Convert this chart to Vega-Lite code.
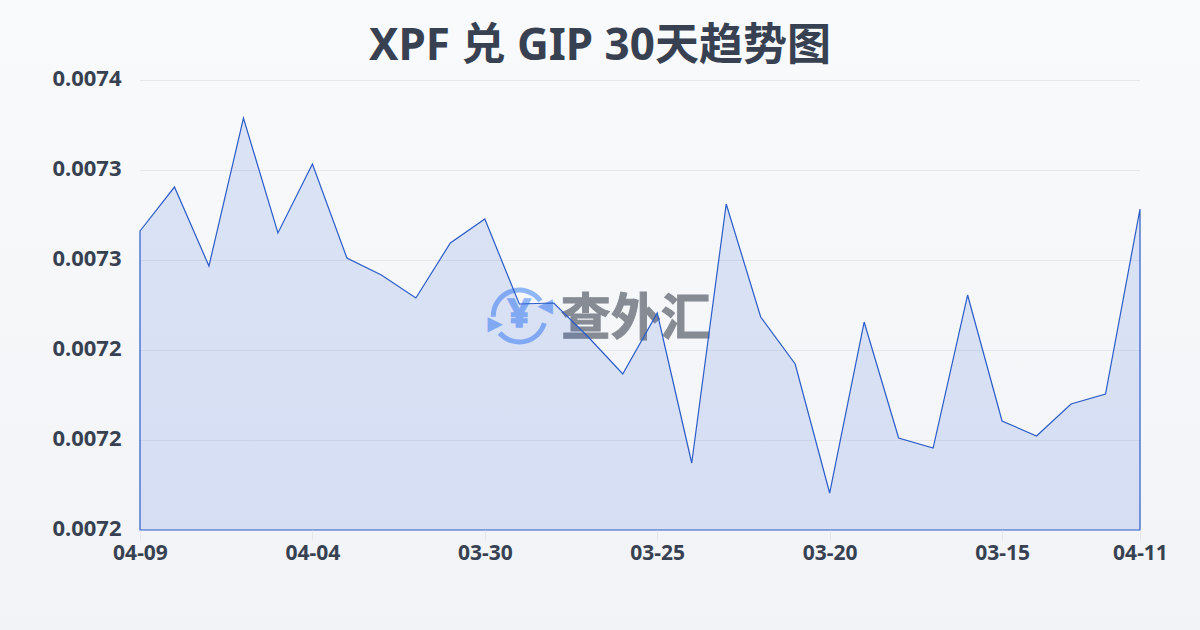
{
"$schema":"https://vega.github.io/schema/vega-lite/v6.json",
"autosize":"none","width":1000,"height":450,
"padding":{"left":140,"top":80,"right":60,"bottom":100},
"background":"#f5f7f9",
"view":{"stroke":null},
"title":{"text":"XPF 兑 GIP 30天趋势图","font":"Noto Sans, Noto Sans CJK SC","fontSize":44,"fontWeight":"bold","color":"#374151","anchor":"middle","dx":-40,"offset":-74},
"data":{"values":[
{"d":"04-09","v":0.00729289},{"d":"04-08","v":0.00731244},{"d":"04-07","v":0.00727733},{"d":"04-06","v":0.00734311},{"d":"04-05","v":0.007292},
{"d":"04-04","v":0.00732267},{"d":"04-03","v":0.00728089},{"d":"04-02","v":0.00727333},{"d":"04-01","v":0.00726311},{"d":"03-31","v":0.00728756},
{"d":"03-30","v":0.00729822},{"d":"03-29","v":0.00726044},{"d":"03-28","v":0.00726089},{"d":"03-27","v":0.00724578},{"d":"03-26","v":0.00722933},
{"d":"03-25","v":0.00725644},{"d":"03-24","v":0.00718978},{"d":"03-23","v":0.00730489},{"d":"03-22","v":0.00725467},{"d":"03-21","v":0.00723378},
{"d":"03-20","v":0.00717644},{"d":"03-19","v":0.00725244},{"d":"03-18","v":0.00720089},{"d":"03-17","v":0.00719644},{"d":"03-16","v":0.00726444},
{"d":"03-15","v":0.00720844},{"d":"03-14","v":0.00720178},{"d":"03-13","v":0.007216},{"d":"03-12","v":0.00722044},{"d":"04-11","v":0.00730267}
]},
"encoding":{
"x":{"field":"d","type":"ordinal","title":null,"scale":{"type":"point","padding":0,"range":[-0.0001,1000],"domain":["04-09","04-08","04-07","04-06","04-05","04-04","04-03","04-02","04-01","03-31","03-30","03-29","03-28","03-27","03-26","03-25","03-24","03-23","03-22","03-21","03-20","03-19","03-18","03-17","03-16","03-15","03-14","03-13","03-12","04-11"]},
"axis":{"values":["04-09","04-04","03-30","03-25","03-20","03-15","04-11"],"labelAngle":0,"labelOverlap":false,"labelBound":false,"labelFlush":false,"domain":false,"ticks":true,"tickSize":10,"tickColor":"#e5e7eb","grid":false,"zindex":1,"labelFont":"Noto Sans","labelFontSize":21,"labelFontWeight":"bold","labelColor":"#374151","labelPadding":2}},
"y":{"field":"v","type":"quantitative","title":null,"scale":{"domain":[0.00716,0.00736],"nice":false,"zero":false},
"axis":{"values":[0.00716,0.0072,0.00724,0.00728,0.00732,0.00736],"format":".4f","labelOverlap":false,"domain":false,"ticks":false,"grid":false,"zindex":1,"labelFont":"Noto Sans","labelFontSize":22,"labelFontWeight":"bold","labelColor":"#374151","labelPadding":19,"labelOffset":-2}}
},
"layer":[
{"data":{"values":[{"d":"03-27","v":0.00725556}]},"mark":{"type":"rect","width":1260,"height":640,"fill":{"gradient":"linear","x1":0,"y1":0,"x2":0,"y2":1,"stops":[{"offset":0,"color":"#f8fafc"},{"offset":1,"color":"#f1f3f6"}]}}},
{"data":{"values":[{"v":0.0072},{"v":0.00724},{"v":0.00728},{"v":0.00732},{"v":0.00736}]},"mark":{"type":"rule","stroke":"#e5e7eb","strokeWidth":1,"yOffset":0.5},"encoding":{"x":{"datum":"04-09"},"x2":{"datum":"04-11"}}},
{"data":{"values":[{"d":"03-29","v":0.00725511}]},"mark":{"type":"arc","theta":-1.6,"theta2":0.95,"innerRadius":23.5,"outerRadius":28.5,"color":"#8fb6f7"}},
{"data":{"values":[{"d":"03-29","v":0.00725511}]},"mark":{"type":"arc","theta":1.85,"theta2":4.0,"innerRadius":23.5,"outerRadius":28.5,"color":"#8fb6f7"}},
{"data":{"values":[{"d":"03-29","v":0.00725511,"t":"¥"}]},"mark":{"type":"text","font":"Noto Sans","fontSize":40,"fontWeight":"bold","color":"#8fb6f7","stroke":"#8fb6f7","strokeWidth":1.5,"dy":-1},"encoding":{"text":{"field":"t"}}},
{"data":{"values":[{"d":"03-29","v":0.00725511,"t":"◀"}]},"mark":{"type":"text","font":"DejaVu Sans","fontSize":20,"color":"#8fb6f7","dx":26,"dy":-10},"encoding":{"text":{"field":"t"}}},
{"data":{"values":[{"d":"03-29","v":0.00725511,"t":"▶"}]},"mark":{"type":"text","font":"DejaVu Sans","fontSize":20,"color":"#8fb6f7","dx":-24,"dy":8},"encoding":{"text":{"field":"t"}}},
{"data":{"values":[{"d":"03-26","v":0.00725511,"t":"查外汇"}]},"mark":{"type":"text","font":"Noto Sans CJK SC","fontSize":50,"fontWeight":"bold","color":"#868b94","stroke":"#868b94","strokeWidth":1,"dx":13,"dy":4},"encoding":{"text":{"field":"t"}}},
{"mark":{"type":"area","fill":"#1d4ed8","fillOpacity":0.13,"stroke":"#2a5cc8","strokeWidth":1.2},"encoding":{"y2":{"datum":0.00716}}}
]
}
